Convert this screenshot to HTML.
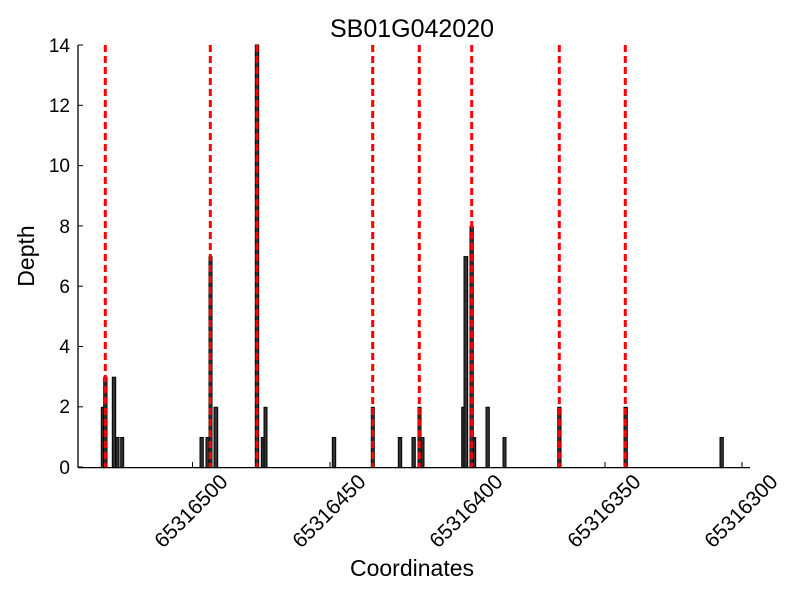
<!DOCTYPE html>
<html><head><meta charset="utf-8"><style>body{margin:0;background:#fff}svg{display:block}</style></head>
<body>
<svg width="800" height="600" xmlns="http://www.w3.org/2000/svg" font-family="Liberation Sans, sans-serif">
<rect width="800" height="600" fill="#fff"/>
<g fill="#333" stroke="#000" stroke-width="1">
<rect x="101.3" y="407.3" width="2.4" height="60.3"/>
<rect x="103.7" y="377.2" width="3.3" height="90.4"/>
<rect x="112.3" y="377.2" width="3.4" height="90.4"/>
<rect x="115.7" y="437.5" width="3.3" height="30.1"/>
<rect x="120.7" y="437.5" width="3" height="30.1"/>
<rect x="200" y="437.5" width="3.3" height="30.1"/>
<rect x="206" y="437.5" width="3" height="30.1"/>
<rect x="209" y="256.6" width="3" height="211"/>
<rect x="214" y="407.3" width="3.7" height="60.3"/>
<rect x="255.3" y="45" width="3.4" height="422.6"/>
<rect x="261.3" y="437.5" width="2.7" height="30.1"/>
<rect x="264" y="407.3" width="3" height="60.3"/>
<rect x="332.3" y="437.5" width="3.4" height="30.1"/>
<rect x="371.3" y="407.3" width="3" height="60.3"/>
<rect x="398.3" y="437.5" width="3.4" height="30.1"/>
<rect x="412" y="437.5" width="3.3" height="30.1"/>
<rect x="418" y="407.3" width="3" height="60.3"/>
<rect x="421" y="437.5" width="3" height="30.1"/>
<rect x="461.7" y="407.3" width="2.6" height="60.3"/>
<rect x="464" y="256.6" width="3.7" height="211"/>
<rect x="470" y="226.4" width="3.3" height="241.2"/>
<rect x="473.3" y="437.5" width="2.4" height="30.1"/>
<rect x="486" y="407.3" width="3.3" height="60.3"/>
<rect x="503" y="437.5" width="3" height="30.1"/>
<rect x="557.7" y="407.3" width="3.3" height="60.3"/>
<rect x="624" y="407.3" width="3.3" height="60.3"/>
<rect x="720" y="437.5" width="3.3" height="30.1"/>
</g>
<g stroke="#f00" stroke-width="3" stroke-dasharray="7,4">
<line x1="105.3" y1="45" x2="105.3" y2="467"/>
<line x1="210.3" y1="45" x2="210.3" y2="467"/>
<line x1="257" y1="45" x2="257" y2="467"/>
<line x1="372.7" y1="45" x2="372.7" y2="467"/>
<line x1="419.3" y1="45" x2="419.3" y2="467"/>
<line x1="471.7" y1="45" x2="471.7" y2="467"/>
<line x1="559.3" y1="45" x2="559.3" y2="467"/>
<line x1="625.3" y1="45" x2="625.3" y2="467"/>
</g>
<g stroke="#000" stroke-width="1.3" fill="none">
<line x1="78" y1="45" x2="78" y2="467.6"/>
<line x1="78" y1="467.6" x2="750" y2="467.6"/>
</g>
<g stroke="#000" stroke-width="1">
<line x1="78" y1="45" x2="83" y2="45"/><line x1="78" y1="105.3" x2="83" y2="105.3"/>
<line x1="78" y1="165.6" x2="83" y2="165.6"/><line x1="78" y1="225.9" x2="83" y2="225.9"/>
<line x1="78" y1="286.2" x2="83" y2="286.2"/><line x1="78" y1="346.5" x2="83" y2="346.5"/>
<line x1="78" y1="406.8" x2="83" y2="406.8"/><line x1="78" y1="467" x2="83" y2="467"/>
<line x1="192.5" y1="467" x2="192.5" y2="462"/><line x1="330" y1="467" x2="330" y2="462"/>
<line x1="467.5" y1="467" x2="467.5" y2="462"/><line x1="605" y1="467" x2="605" y2="462"/>
<line x1="742" y1="467" x2="742" y2="462"/>
</g>
<g font-size="19" text-anchor="end" fill="#000">
<text x="70" y="52">14</text><text x="70" y="112">12</text><text x="70" y="172">10</text>
<text x="70" y="233">8</text><text x="70" y="293">6</text><text x="70" y="353">4</text>
<text x="70" y="413">2</text><text x="70" y="474">0</text>
</g>
<g font-size="21" text-anchor="middle" fill="#000">
<text transform="translate(196,516) rotate(-45)">65316500</text>
<text transform="translate(334,516) rotate(-45)">65316450</text>
<text transform="translate(471,516) rotate(-45)">65316400</text>
<text transform="translate(609,516) rotate(-45)">65316350</text>
<text transform="translate(746,516) rotate(-45)">65316300</text>
</g>
<text x="412" y="37" font-size="25" text-anchor="middle">SB01G042020</text>
<text x="412" y="576" font-size="23" text-anchor="middle">Coordinates</text>
<text transform="translate(34,256) rotate(-90)" font-size="23" text-anchor="middle">Depth</text>
</svg>
</body></html>
